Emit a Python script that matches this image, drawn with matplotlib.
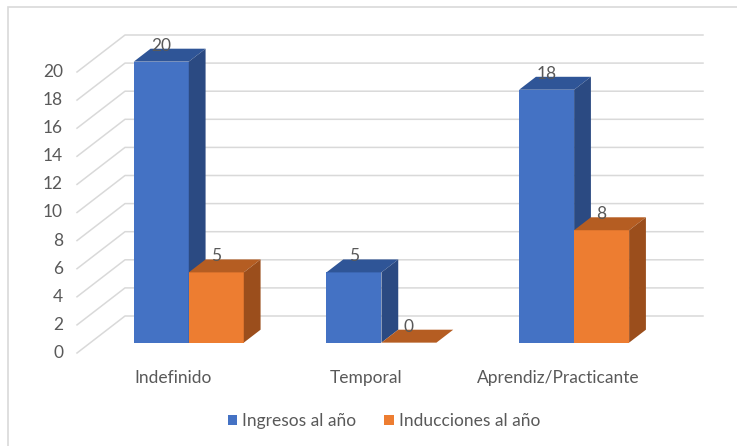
import matplotlib.pyplot as plt
from matplotlib.patches import Polygon, Patch, Rectangle

plt.rcParams['font.family'] = ['Lato', 'DejaVu Sans']

categorias = ['Indefinido', 'Temporal', 'Aprendiz/Practicante']
ingresos = [20, 5, 18]
inducciones = [5, 0, 8]
series = ['Ingresos al año', 'Inducciones al año']
ticks_y = list(range(0, 21, 2))

# colores (cara frontal, tapa, lateral)
azul = ['#4472C4', '#2F5597', '#2B4A82']
naranja = ['#ED7D31', '#B55D22', '#9B4E1C']
gris_txt = '#595959'
gris_grid = '#D9D9D9'
fs = 12.5

# proyeccion oblicua tipo Excel (en unidades de datos)
px_x = 192.67   # px por categoria
px_y = 14.05    # px por unidad
Dx = 48 / px_x  # profundidad del piso
Dy = 37 / px_y
d0, d1 = 0.28, 0.63   # profundidad de las barras (frente / fondo)
ancho = 55 / px_x
corr = 2 / px_x

fig = plt.figure(figsize=(7.37, 4.46), dpi=100)
ax = fig.add_axes([0, 0, 1, 1])
ax.set_xlim(-77 / px_x, (737 - 77) / px_x)
ax.set_ylim((353 - 446) / px_y, 353 / px_y)
ax.axis('off')

# borde del grafico
fig.patches.append(Rectangle((8 / 737, -0.1), 1.2, 1 - 7 / 446 + 0.1,
                             transform=fig.transFigure, fill=False,
                             edgecolor='#D9D9D9', linewidth=1.2))

# lineas de la cuadricula (pared lateral + pared del fondo)
n = len(categorias)
for v in ticks_y:
    ax.plot([0, Dx, n + Dx], [v, v + Dy, v + Dy], color=gris_grid, lw=1.1, zorder=1)
    ax.text(-14 / px_x, v, str(v), ha='right', va='center', fontsize=fs, color=gris_txt)


def barra(x0, v, cols, z):
    xf = x0 + d0 * Dx
    yf = d0 * Dy
    ddx = (d1 - d0) * Dx
    ddy = (d1 - d0) * Dy
    ax.bar(xf, v, width=ancho, bottom=yf, align='edge', color=cols[0], zorder=z)
    top = [(xf, yf + v), (xf + ancho, yf + v), (xf + ancho + ddx, yf + v + ddy), (xf + ddx, yf + v + ddy)]
    ax.add_patch(Polygon(top, closed=True, facecolor=cols[1], edgecolor='none', zorder=z))
    if v > 0:
        lado = [(xf + ancho, yf), (xf + ancho + ddx, yf + ddy), (xf + ancho + ddx, yf + v + ddy), (xf + ancho, yf + v)]
        ax.add_patch(Polygon(lado, closed=True, facecolor=cols[2], edgecolor='none', zorder=z))
    ax.text(xf + ancho / 2, yf + v + ddy - 0.35, str(v), ha='center', va='bottom',
            fontsize=fs, color=gris_txt, zorder=z + 1)


for i, cat in enumerate(categorias):
    c = i + 0.5 + corr
    barra(c - ancho, ingresos[i], azul, 3)
    barra(c, inducciones[i], naranja, 4)
    ax.text(i + 0.5, -1.8, cat, ha='center', va='center', fontsize=fs, color=gris_txt)

handles = [Patch(facecolor=azul[0]), Patch(facecolor=naranja[0])]
fig.legend(handles, series, loc='center', bbox_to_anchor=(384 / 737, 1 - 421 / 446),
           ncol=2, frameon=False, fontsize=fs, labelcolor=gris_txt,
           handlelength=0.55, handleheight=0.55, handletextpad=0.3, columnspacing=1.6)

fig.savefig('out.png', dpi=100)
